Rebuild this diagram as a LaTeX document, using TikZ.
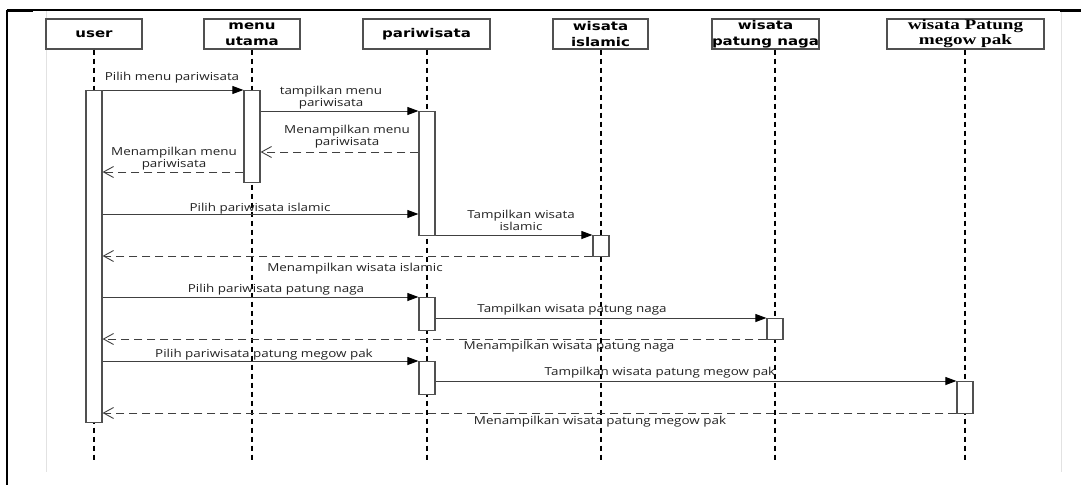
\documentclass[tikz,border=0pt]{standalone}
\usepackage{fontspec}
\usetikzlibrary{arrows.meta}
\newfontfamily\lblfont[FakeStretch=1.22]{Open Sans}
\newfontfamily\hdfont[FakeStretch=1.25]{DejaVu Sans}
\newfontfamily\serhdfont[FakeStretch=1.32]{Liberation Serif}
\definecolor{linegrey}{HTML}{404040}
\definecolor{pagegrey}{HTML}{E2E2E2}
\definecolor{boxgrey}{HTML}{505050}
\definecolor{txtgrey}{HTML}{222222}

\begin{document}
\begin{tikzpicture}[x=1pt,y=-1pt,
  header/.style={draw=boxgrey, line width=1.4pt, fill=white, minimum height=30pt,
    inner sep=0pt, align=center, text=black,
    font=\hdfont\bfseries\fontsize{12}{16}\selectfont},
  serifheader/.style={header, font=\serhdfont\bfseries\fontsize{14.5}{15}\selectfont},
  lifeline/.style={draw=black, line width=1.2pt, dash pattern=on 5pt off 4pt},
  actbar/.style={draw=boxgrey, line width=1.2pt, fill=white, minimum width=16pt,
    inner sep=0pt, anchor=north},
  msg/.style={draw=linegrey, line width=0.9pt, -{Triangle[length=11pt,width=8pt,color=black]}},
  ret/.style={draw=linegrey, line width=0.9pt, dash pattern=on 8pt off 5pt,
    -{Straight Barb[length=10pt,width=11pt]}},
  lbl/.style={font=\lblfont\fontsize{11}{12}\selectfont, text=txtgrey, align=center, inner sep=0pt},
]
\useasboundingbox (0,0) rectangle (1081,485);

% page frame
\draw[pagegrey, line width=0.8pt] (46,10) -- (46,472);
\draw[pagegrey, line width=0.8pt] (1061,10) -- (1061,472);
\draw[line width=1.2pt] (7,10) -- (1081,10);
\draw[line width=2.6pt] (6,11) -- (33,11);
\draw[line width=2.6pt] (1060,11) -- (1081,11);
\draw[line width=2.6pt] (7,10) -- (7,485);

% object headers
\node[header, minimum width=96pt]  (hu) at (94,34)    {user};
\node[header, minimum width=96pt]  (hm) at (252,34)   {menu\\utama};
\node[header, minimum width=127pt] (hp) at (426.5,34) {pariwisata};
\node[header, minimum width=95pt]  (hi) at (600.5,34) {wisata\\islamic};
\node[header, minimum width=107pt] (hn) at (765.5,34) {wisata\\patung naga};
\node[serifheader, minimum width=157pt] (hg) at (965.5,34) {wisata Patung\\megow pak};

% lifeline columns and their end
\coordinate (xu) at (94,0);
\coordinate (xm) at (252,0);
\coordinate (xp) at (427,0);
\coordinate (xi) at (601,0);
\coordinate (xn) at (775,0);
\coordinate (xg) at (965,0);
\coordinate (lend) at (0,460);

\draw[lifeline] (xu |- hu.south) -- (xu |- lend);
\draw[lifeline] (xm |- hm.south) -- (xm |- lend);
\draw[lifeline] (xp |- hp.south) -- (xp |- lend);
\draw[lifeline] (xi |- hi.south) -- (xi |- lend);
\draw[lifeline] (xn |- hn.south) -- (xn |- lend);
\draw[lifeline] (xg |- hg.south) -- (xg |- lend);

% activation bars
\node[actbar, minimum height=332pt] (ub)  at (94,90)  {};
\node[actbar, minimum height=92pt]  (mb)  at (252,90) {};
\node[actbar, minimum height=124pt] (pb1) at (427,111) {};
\node[actbar, minimum height=21pt]  (ib)  at (601,235) {};
\node[actbar, minimum height=33pt]  (pb2) at (427,297) {};
\node[actbar, minimum height=21pt]  (nb)  at (775,318) {};
\node[actbar, minimum height=33pt]  (pb3) at (427,361) {};
\node[actbar, minimum height=32pt]  (gb)  at (965,381) {};

% message levels
\coordinate (y1) at (0,90);
\coordinate (y2) at (0,111);
\coordinate (y3) at (0,152);
\coordinate (y4) at (0,172);
\coordinate (y5) at (0,214);
\coordinate (y6) at (0,235);
\coordinate (y7) at (0,256);
\coordinate (y8) at (0,297);
\coordinate (y9) at (0,318);
\coordinate (y10) at (0,339);
\coordinate (y11) at (0,361);
\coordinate (y12) at (0,381);
\coordinate (y13) at (0,413);

% messages
\draw[msg] (ub.east |- y1) -- (mb.west |- y1);
\draw[msg] (mb.east |- y2) -- (pb1.west |- y2);
\draw[ret] (pb1.west |- y3) -- (mb.east |- y3);
\draw[ret] (mb.west |- y4) -- (ub.east |- y4);
\draw[msg] (ub.east |- y5) -- (pb1.west |- y5);
\draw[msg] (pb1.east |- y6) -- (ib.west |- y6);
\draw[ret] (ib.west |- y7) -- (ub.east |- y7);
\draw[msg] (ub.east |- y8) -- (pb2.west |- y8);
\draw[msg] (pb2.east |- y9) -- (nb.west |- y9);
\draw[ret] (nb.west |- y10) -- (ub.east |- y10);
\draw[msg] (ub.east |- y11) -- (pb3.west |- y11);
\draw[msg] (pb3.east |- y12) -- (gb.west |- y12);
\draw[ret] (gb.west |- y13) -- (ub.east |- y13);

% message labels
\node[lbl] (l1)  at (172,78)  {Pilih menu pariwisata};
\node[lbl] (l2)  at (331,98)  {tampilkan menu\\pariwisata};
\node[lbl] (l3)  at (347,137) {Menampilkan menu\\pariwisata};
\node[lbl] (l4)  at (174,159) {Menampilkan menu\\pariwisata};
\node[lbl] (l5)  at (260,209) {Pilih pariwisata islamic};
\node[lbl] (l6)  at (521,220) {Tampilkan wisata\\islamic};
\node[lbl] (l7)  at (355,269) {Menampilkan wisata islamic};
\node[lbl] (l8)  at (276,290) {Pilih pariwisata patung naga};
\node[lbl] (l9)  at (572,310) {Tampilkan wisata patung naga};
\node[lbl] (l10) at (569,347) {Menampilkan wisata patung naga};
\node[lbl] (l11) at (264,355) {Pilih pariwisata patung megow pak};
\node[lbl] (l12) at (660,373) {Tampilkan wisata patung megow pak};
\node[lbl] (l13) at (600,422) {Menampilkan wisata patung megow pak};
\end{tikzpicture}
\end{document}
